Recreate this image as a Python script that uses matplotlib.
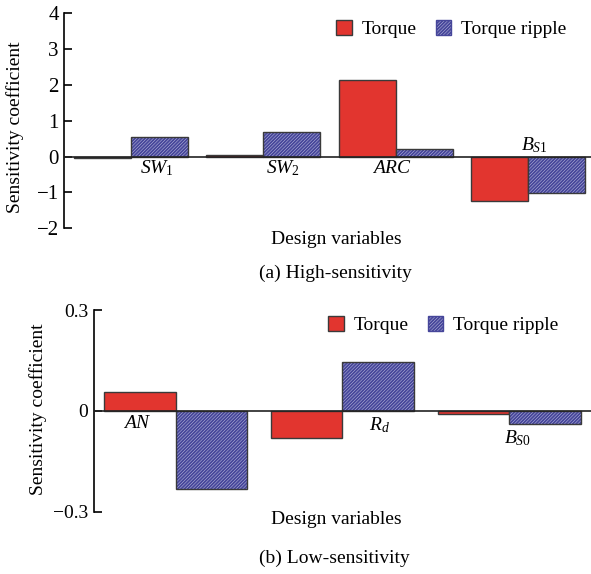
import matplotlib
matplotlib.use("Agg")
import matplotlib.pyplot as plt
from matplotlib.patches import Patch
import numpy as np

plt.rcParams['font.family'] = ['Liberation Serif', 'DejaVu Serif']
plt.rcParams['mathtext.fontset'] = 'custom'
plt.rcParams['mathtext.rm'] = 'Liberation Serif'
plt.rcParams['mathtext.it'] = 'Liberation Serif:italic'
plt.rcParams['hatch.linewidth'] = 1.4

# ---- data ----
cats_a = [r'$SW_1$', r'$SW_2$', r'$ARC$', r'$B_{S1}$']
torque_a = [-0.04, 0.04, 2.15, -1.24]
ripple_a = [0.56, 0.69, 0.20, -1.02]
label_dx_a = [0.20, 0.15, -0.03, 0.05]
label_y_a = [-0.33, -0.33, -0.33, 0.33]
yticks_a = [-2, -1, 0, 1, 2, 3, 4]
ytick_labels_a = ['\u22122', '\u22121', '0', '1', '2', '3', '4']

cats_b = [r'$AN$', r'$R_d$', r'$B_{S0}$']
torque_b = [0.055, -0.081, -0.010]
ripple_b = [-0.233, 0.145, -0.040]
label_dx_b = [-0.23, 0.22, 0.05]
label_y_b = [-0.037, -0.042, -0.080]
yticks_b = [-0.3, 0, 0.3]
ytick_labels_b = ['\u22120.3', '0', '0.3']

RED = '#e2352f'
HATCH_FACE = '#d8d8ee'
HATCH_LINE = '#46469a'
EDGE = '#3a3a3a'
HATCH = '/' * 10
W = 0.43
FS = 14

fig = plt.figure(figsize=(5.91, 5.74), dpi=100)

def panel(ax, cats, torque, ripple, dxs, lys, yticks, yticklabels, ylim, xlim, tickfs):
    x = np.arange(len(cats))
    ax.bar(x - W / 2, torque, W, color=RED, edgecolor=EDGE, linewidth=1.0, zorder=2)
    ax.bar(x + W / 2, ripple, W, color=HATCH_FACE, edgecolor=HATCH_LINE, linewidth=0,
           hatch=HATCH, zorder=2)
    ax.bar(x + W / 2, ripple, W, fill=False, edgecolor=EDGE, linewidth=1.0, zorder=2.5)
    ax.axhline(0, color='#222222', linewidth=1.2, zorder=3)
    ax.set_xlim(*xlim)
    ax.set_ylim(*ylim)
    ax.set_yticks(yticks)
    ax.set_yticklabels(yticklabels)
    ax.set_xticks([])
    for s in ['top', 'right', 'bottom']:
        ax.spines[s].set_visible(False)
    ax.spines['left'].set_linewidth(1.2)
    ax.tick_params(axis='y', direction='in', length=6, width=1.2, labelsize=tickfs, pad=4)
    for xi, c, dx, ly in zip(x, cats, dxs, lys):
        ax.text(xi + dx, ly, c, ha='center', va='center', fontsize=FS, zorder=4)
    ax.patch.set_alpha(0)

ax1 = fig.add_axes([0.109, 0.6023, 0.891, 0.3745])
panel(ax1, cats_a, torque_a, ripple_a, label_dx_a, label_y_a, yticks_a, ytick_labels_a,
      (-2, 4), (-0.5, 3.475), 15)

ax2 = fig.add_axes([0.159, 0.1085, 0.841, 0.3514])
panel(ax2, cats_b, torque_b, ripple_b, label_dx_b, label_y_b, yticks_b, ytick_labels_b,
      (-0.3, 0.3), (-0.49, 2.49), 14)

fig.text(15 / 591, 1 - 127 / 574, 'Sensitivity coefficient', rotation=90,
         ha='center', va='center', fontsize=FS)
fig.text(38 / 591, 1 - 409 / 574, 'Sensitivity coefficient', rotation=90,
         ha='center', va='center', fontsize=FS)
fig.text(336 / 591, 1 - 240 / 574, 'Design variables', ha='center', va='center', fontsize=FS)
fig.text(335 / 591, 1 - 273 / 574, '(a) High-sensitivity', ha='center', va='center', fontsize=FS)
fig.text(336 / 591, 1 - 520 / 574, 'Design variables', ha='center', va='center', fontsize=FS)
fig.text(334 / 591, 1 - 558 / 574, '(b) Low-sensitivity', ha='center', va='center', fontsize=FS)

handles = [Patch(facecolor=RED, edgecolor=EDGE, linewidth=1.0, label='Torque'),
           Patch(facecolor=HATCH_FACE, edgecolor=HATCH_LINE, linewidth=1.0, hatch=HATCH,
                 label='Torque ripple')]
for yy, xx in [(29, 336), (325, 328)]:
    fig.legend(handles=handles, loc='center left',
               bbox_to_anchor=(xx / 591, 1 - yy / 574), ncol=2, frameon=False,
               fontsize=FS, handlelength=0.8, handleheight=0.8, handletextpad=0.5,
               columnspacing=1.0, borderpad=0, borderaxespad=0)

fig.savefig('out.png', dpi=100)
